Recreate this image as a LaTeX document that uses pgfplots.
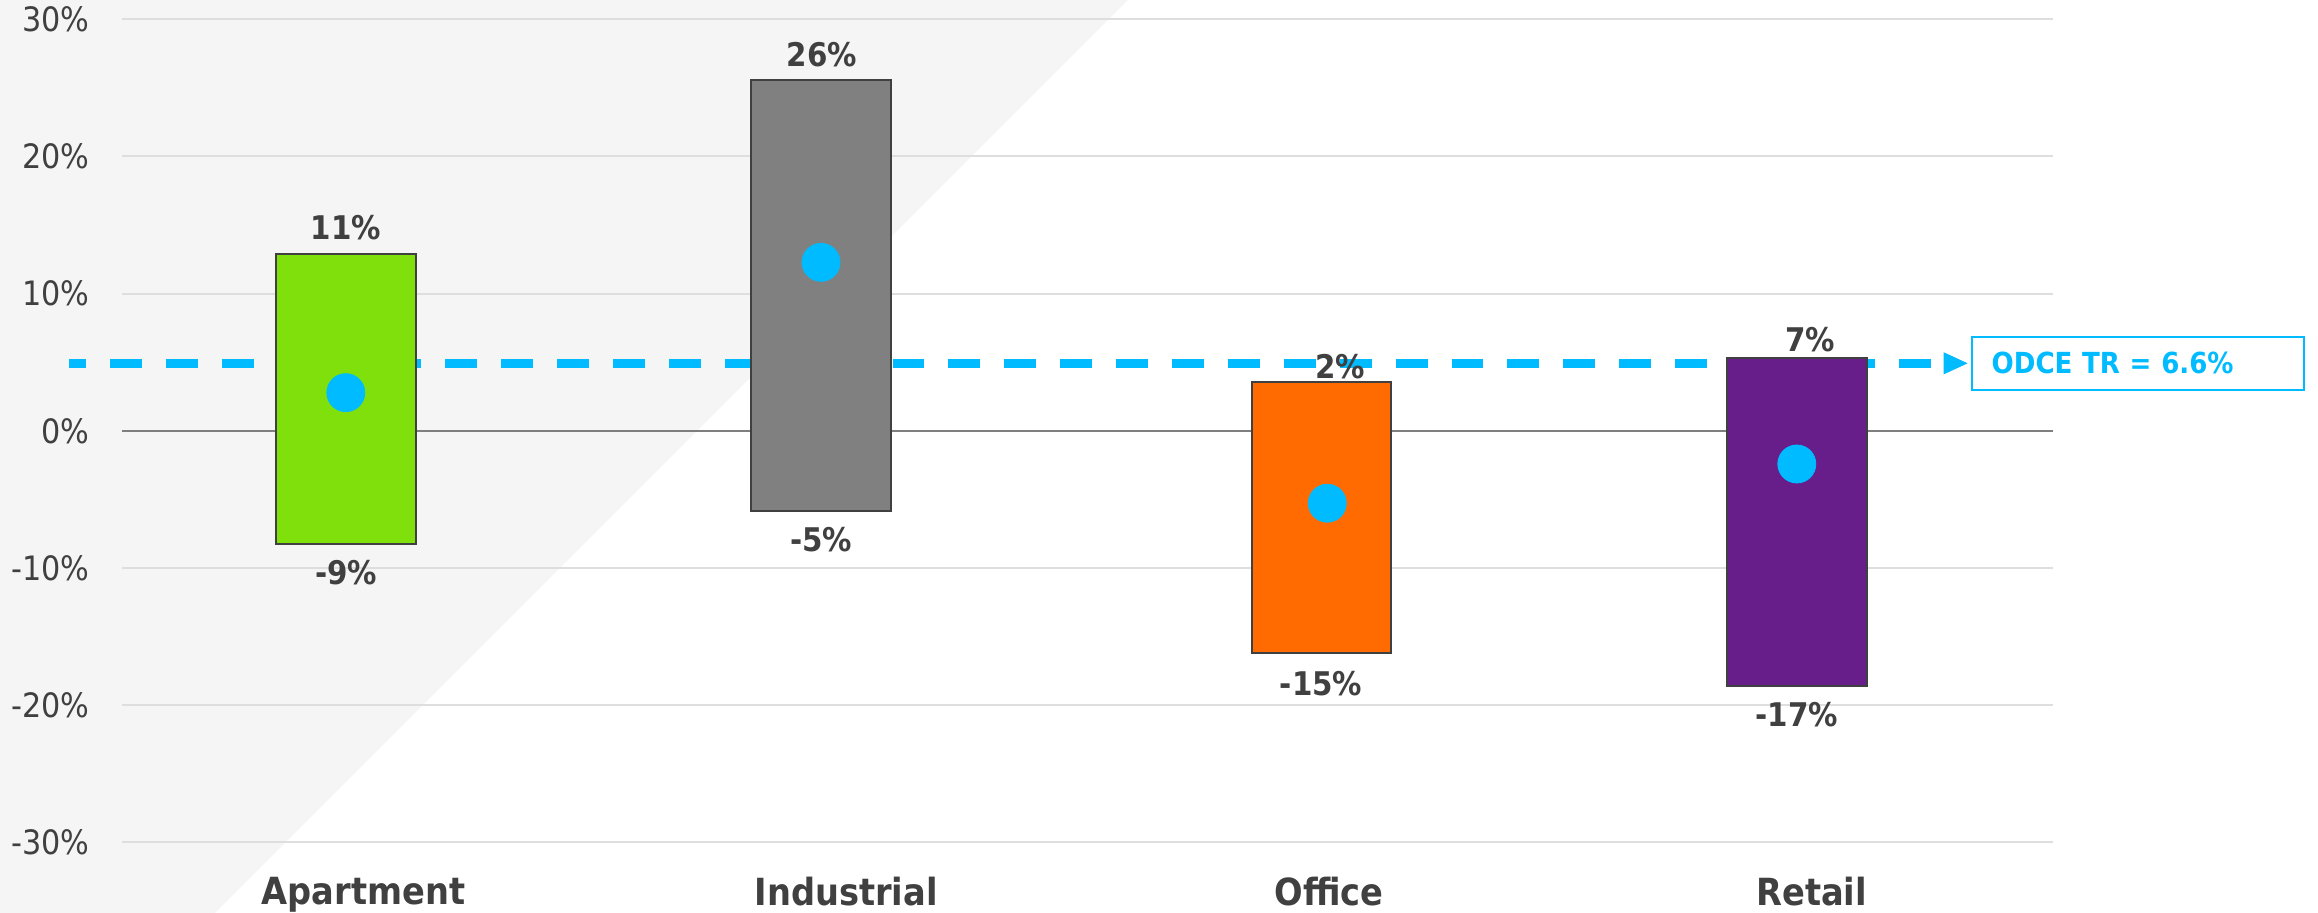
\documentclass[border=0pt]{standalone}
\usepackage{pgfplots}
\pgfplotsset{compat=1.18}
\usepackage{fontspec}
\setmainfont{DejaVu Sans Condensed}
\definecolor{txt}{HTML}{404040}
\definecolor{bgg}{HTML}{F5F5F5}
\definecolor{gridc}{HTML}{DEDEDE}
\definecolor{zero}{HTML}{7F7F7F}
\definecolor{cy}{HTML}{00BBFF}
\definecolor{cgreen}{HTML}{80E00C}
\definecolor{cgray}{HTML}{808080}
\definecolor{corange}{HTML}{FF6B00}
\definecolor{cpurple}{HTML}{671E8B}
\definecolor{outl}{HTML}{404040}
\begin{document}
\begin{tikzpicture}
\path[use as bounding box] (-61pt,-35.35pt) rectangle (1098pt,421.15pt);
\fill[bgg] (-61pt,421.15pt) -- (503pt,421.15pt) -- (46.5pt,-35.35pt) -- (-61pt,-35.35pt) -- cycle;
\begin{axis}[
  at={(0pt,0pt)}, anchor=south west,
  scale only axis, width=965.5pt, height=411.5pt,
  xmin=0, xmax=4, ymin=-30, ymax=30, clip=false,
  axis line style={draw=none}, major tick length=0pt,
  ytick={-30,-20,-10,0,10,20,30},
  yticklabels={-30\%,-20\%,-10\%,0\%,10\%,20\%,30\%},
  ymajorgrids, grid style={line width=1pt, color=gridc},
  xtick={0.5,1.5,2.5,3.5},
  xticklabels={Apartment,Industrial,Office,Retail},
  xticklabel style={font=\bfseries\fontsize{18.7}{20}\selectfont, text=txt, anchor=north, inner sep=0pt, yshift=-17.2pt},
  yticklabel style={font=\fontsize{16.8}{18}\selectfont, text=txt, anchor=east, inner sep=0pt, xshift=-16pt},
]
% zero line
\addplot[zero, line width=1pt] coordinates {(0,0) (4,0)};
% ODCE TR reference line
\addplot[cy, line width=4.5pt, dash pattern=on 15.95pt off 12pt, dash phase=7.5pt] coordinates {(-0.1098,4.92) (3.7514,4.92)};
\addplot[only marks, mark=triangle*, mark size=7.5pt, color=cy, mark options={rotate=-90, xscale=0.8, fill=cy, draw=cy}] coordinates {(3.790,4.92)};
% floating bars (low to high)
\addplot[fill=cgreen, draw=outl, line width=1pt] coordinates {(0.3191,-8.25) (0.6081,-8.25) (0.6081,12.89) (0.3191,12.89)} -- cycle;
\addplot[fill=cgray, draw=outl, line width=1pt] coordinates {(1.3036,-5.85) (1.5930,-5.85) (1.5930,25.59) (1.3036,25.59)} -- cycle;
\addplot[fill=corange, draw=outl, line width=1pt] coordinates {(2.3401,-16.22) (2.6293,-16.22) (2.6293,3.58) (2.3401,3.58)} -- cycle;
\addplot[fill=cpurple, draw=outl, line width=1pt] coordinates {(3.3247,-18.58) (3.6141,-18.58) (3.6141,5.31) (3.3247,5.31)} -- cycle;
% averages
\addplot[only marks, mark=*, mark size=9.5pt, color=cy, mark options={fill=cy, draw=cy}] coordinates {(0.4636,2.78) (1.4480,12.28) (2.4967,-5.28) (3.4693,-2.42)};
% labels
\begin{scope}[every node/.style={font=\bfseries\fontsize{16.3}{18}\selectfont, text=txt, inner sep=0pt, anchor=center}]
\node at (axis cs:0.4640,14.78) {11\%};
\node at (axis cs:1.4497,27.46) {26\%};
\node at (axis cs:2.5230,4.67) {2\%};
\node at (axis cs:3.4966,6.62) {7\%};
\node at (axis cs:0.4644,-10.36) {-9\%};
\node at (axis cs:1.4484,-7.91) {-5\%};
\node at (axis cs:2.4837,-18.40) {-15\%};
\node at (axis cs:3.4695,-20.71) {-17\%};
\end{scope}
\node[draw=cy, line width=1pt, anchor=west, minimum height=26.65pt, text width=146pt, inner xsep=10pt, inner ysep=0pt, align=left, text=cy, font=\bfseries\fontsize{14.5}{16}\selectfont] at (axis cs:3.8295,4.92) {ODCE TR = 6.6\%};
\end{axis}
\end{tikzpicture}
\end{document}
